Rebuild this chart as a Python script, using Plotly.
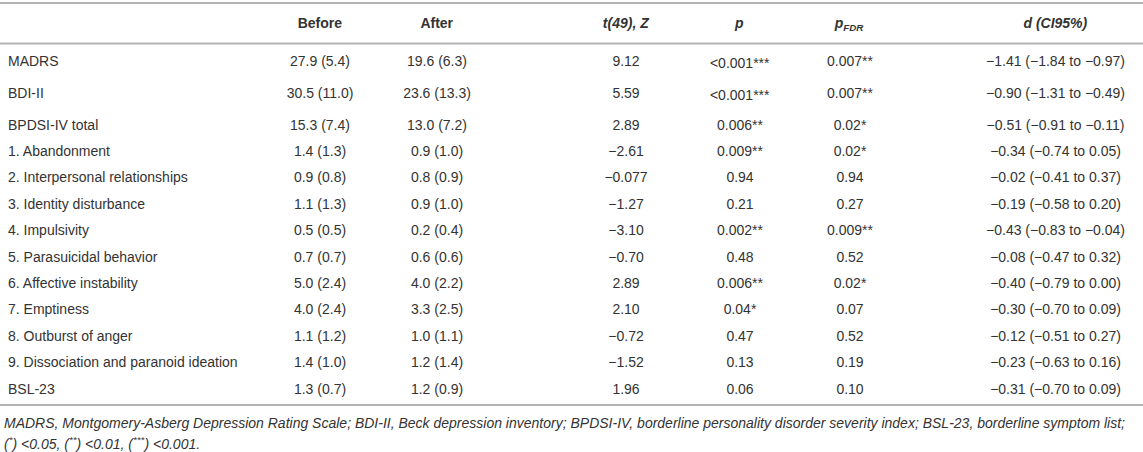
import plotly.graph_objects as go

# outcome measures (rows)
measures = ["MADRS", "BDI-II", "BPDSI-IV total", "1. Abandonment",
            "2. Interpersonal relationships", "3. Identity disturbance",
            "4. Impulsivity", "5. Parasuicidal behavior",
            "6. Affective instability", "7. Emptiness",
            "8. Outburst of anger", "9. Dissociation and paranoid ideation",
            "BSL-23"]

before_mean = [27.9, 30.5, 15.3, 1.4, 0.9, 1.1, 0.5, 0.7, 5.0, 4.0, 1.1, 1.4, 1.3]
before_sd = [5.4, 11.0, 7.4, 1.3, 0.8, 1.3, 0.5, 0.7, 2.4, 2.4, 1.2, 1.0, 0.7]
after_mean = [19.6, 23.6, 13.0, 0.9, 0.8, 0.9, 0.2, 0.6, 4.0, 3.3, 1.0, 1.2, 1.2]
after_sd = [6.3, 13.3, 7.2, 1.0, 0.9, 1.0, 0.4, 0.6, 2.2, 2.5, 1.1, 1.4, 0.9]

t_stat = ["9.12", "5.59", "2.89", "−2.61", "−0.077", "−1.27", "−3.10",
          "−0.70", "2.89", "2.10", "−0.72", "−1.52", "1.96"]

p_vals = ["<0.001", "<0.001", "0.006", "0.009", "0.94", "0.21", "0.002",
          "0.48", "0.006", "0.04", "0.47", "0.13", "0.06"]
p_stars = [3, 3, 2, 2, 0, 0, 2, 0, 2, 1, 0, 0, 0]

p_fdr = ["0.007", "0.007", "0.02", "0.02", "0.94", "0.27", "0.009",
         "0.52", "0.02", "0.07", "0.52", "0.19", "0.10"]
p_fdr_stars = [2, 2, 1, 1, 0, 0, 2, 0, 1, 0, 0, 0, 0]

d_eff = [-1.41, -0.90, -0.51, -0.34, -0.02, -0.19, -0.43, -0.08, -0.40, -0.30, -0.12, -0.23, -0.31]
ci_low = [-1.84, -1.31, -0.91, -0.74, -0.41, -0.58, -0.83, -0.47, -0.79, -0.70, -0.51, -0.63, -0.70]
ci_high = [-0.97, -0.49, -0.11, 0.05, 0.37, 0.20, -0.04, 0.32, 0.00, 0.09, 0.27, 0.16, 0.09]

headers = ["", "<b>Before</b>", "<b>After</b>", "", "<b><i>t(49), Z</i></b>",
           "<b><i>p</i></b>", "<b><i>p<sub>FDR</sub></i></b>", "",
           "<b><i>d (CI95%)</i></b>"]

footnote_1 = ("MADRS, Montgomery-Asberg Depression Rating Scale; BDI-II, Beck depression inventory; "
              "BPDSI-IV, borderline personality disorder severity index; BSL-23, borderline symptom list;")
footnote_2 = "(<sup>*</sup>) &lt;0.05, (<sup>**</sup>) &lt;0.01, (<sup>***</sup>) &lt;0.001."


def num(v):
    # journal style minus sign
    return f"{v:.2f}".replace("-", "−")


def starred(vals, stars):
    # plain asterisks: any markup makes plotly table rows taller
    return [v + "*" * s for v, s in zip(vals, stars)]


before_txt = [f"{m:.1f} ({s:.1f})" for m, s in zip(before_mean, before_sd)]
after_txt = [f"{m:.1f} ({s:.1f})" for m, s in zip(after_mean, after_sd)]
d_txt = [f"{num(d)} ({num(lo)} to {num(hi)})" for d, lo, hi in zip(d_eff, ci_low, ci_high)]
blank = [""] * len(measures)

W, H = 1143, 452
TXT = "#333333"
RULE = "#b4b4b4"
FONT = "Liberation Sans, Arial, sans-serif"

fig = go.Figure(go.Table(
    domain=dict(x=[0, 1], y=[0, 1 - 7 / H]),
    columnwidth=[262, 116, 118, 75, 110, 118, 102, 67, 175],
    header=dict(
        values=headers,
        align=["left"] + ["center"] * 8,
        fill_color="rgba(0,0,0,0)",
        line_color="rgba(0,0,0,0)",
        font=dict(family=FONT, size=14, color=TXT),
        height=40  # a bit short: the two "<" rows come out taller than the rest
    ),
    cells=dict(
        values=[measures, before_txt, after_txt, blank, t_stat,
                starred(p_vals, p_stars), starred(p_fdr, p_fdr_stars), blank, d_txt],
        align=["left"] + ["center"] * 8,
        fill_color="rgba(0,0,0,0)",
        line_color="rgba(0,0,0,0)",
        font=dict(family=FONT, size=14, color=TXT),
        height=26.4
    )
))

# horizontal rules: top, under header, bottom of body
for y_px in [3, 43.5, 405]:
    fig.add_shape(type="line", xref="paper", yref="paper",
                  x0=0, x1=1, y0=1 - y_px / H, y1=1 - y_px / H,
                  line=dict(color=RULE, width=2))

for txt, y_px in [(footnote_1, 423), (footnote_2, 443)]:
    fig.add_annotation(text="<i>" + txt + "</i>", xref="paper", yref="paper",
                       x=0, y=1 - y_px / H, xanchor="left", yanchor="middle",
                       xshift=2, showarrow=False,
                       font=dict(family=FONT, size=14, color=TXT))

fig.update_layout(
    width=W, height=H,
    margin=dict(l=0, r=0, t=0, b=0),
    paper_bgcolor="white",
    plot_bgcolor="white"
)

# drop the browser's default 8px body margin so the figure fills the window
fig.write_html("out.html", config={"displayModeBar": False},
               post_script="document.body.style.margin='0px';")
